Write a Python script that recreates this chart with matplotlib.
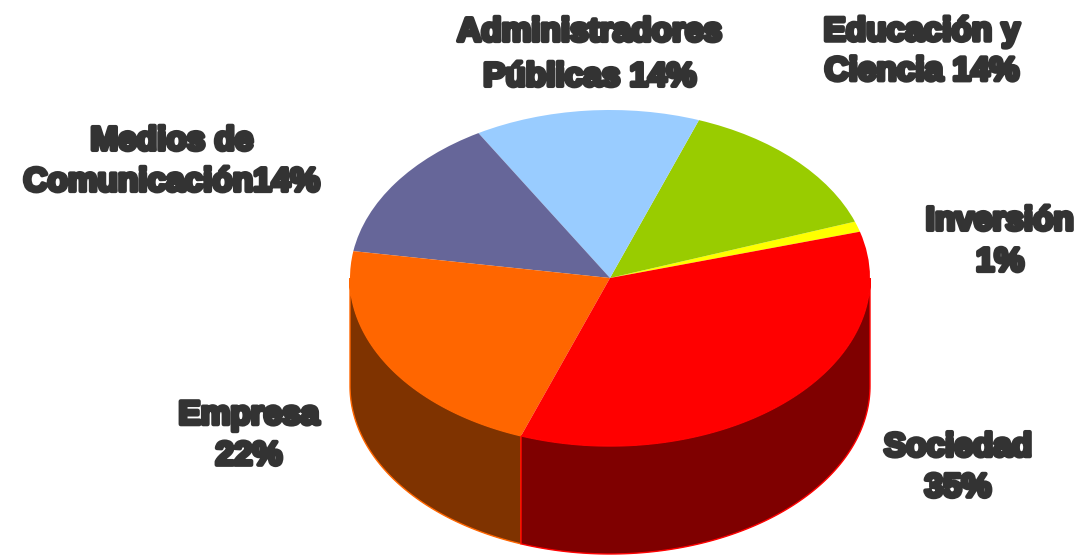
import numpy as np
import matplotlib.pyplot as plt
import matplotlib.patheffects as pe

# Anteil je Bereich, gegen den Uhrzeigersinn ab Inversión
sectors = ['Inversión', 'Educación y Ciencia', 'Administradores Públicas',
           'Medios de Comunicación', 'Empresa', 'Sociedad']
values = [1, 14, 14, 14, 22, 35]
top_colors = ['#ffff00', '#99cc00', '#99ccff', '#666699', '#ff6600', '#ff0000']
side_colors = ['#7f7f00', '#4c6600', '#4c667f', '#33334c', '#7f3300', '#7f0000']

labels = ['Inversión\n1%', 'Educación y\nCiencia 14%', 'Administradores\nPúblicas 14%',
          'Medios de\nComunicación14%', 'Empresa\n22%', 'Sociedad\n35%']
label_px = [(1000, 242), (922, 52), (590, 55), (172, 162), (249, 436), (958, 468)]
label_spacing = [1.42, 1.36, 1.58, 1.42, 1.40, 1.40]

W, H = 1081, 558
CX, CY, RX, RY = 610, 278, 260, 168
DEPTH = 108 / RY
START = 16

fig = plt.figure(figsize=(W / 100, H / 100), dpi=100, facecolor='white')
ax = fig.add_axes([0, 0, 1, 1])

# Seitenwand: nur der vordere Teil des Kreises (180-360 Grad) ist sichtbar
edges = START + np.cumsum([0] + values) * 3.6
for a0, a1, col, edge in zip(edges[:-1], edges[1:], side_colors, top_colors):
    spans = [(a0, a1), (a0 + 360, a1 + 360), (a0 - 360, a1 - 360)]
    for lo, hi in spans:
        lo, hi = max(lo, 180), min(hi, 360)
        if hi <= lo:
            continue
        t = np.radians(np.linspace(lo, hi, 120))
        xs = np.r_[np.cos(t), np.cos(t[::-1])]
        ys = np.r_[np.sin(t), np.sin(t[::-1]) - DEPTH]
        ax.fill(xs, ys, facecolor=col, edgecolor=edge, linewidth=1, zorder=1)

wedges, _ = ax.pie(values, colors=top_colors, startangle=START, counterclock=True,
                   radius=1, wedgeprops={'linewidth': 0, 'zorder': 2})

# pie() setzt ein quadratisches Seitenverhaeltnis, hier wird es zur Ellipse gestaucht
ax.set_box_aspect(None)
ax.set_aspect('auto')
ax.set_xlim((0 - CX) / RX, (W - CX) / RX)
ax.set_ylim((CY - H) / RY, CY / RY)
ax.axis('off')

for text, (px, py), gap in zip(labels, label_px, label_spacing):
    fig.text(px / W, 1 - py / H, text, ha='center', va='center', fontsize=24,
             family='Liberation Sans', fontweight='bold', color='#333333', linespacing=gap,
             path_effects=[pe.withStroke(linewidth=3, foreground='#333333')])

fig.savefig('out.png', dpi=100, facecolor='white')
